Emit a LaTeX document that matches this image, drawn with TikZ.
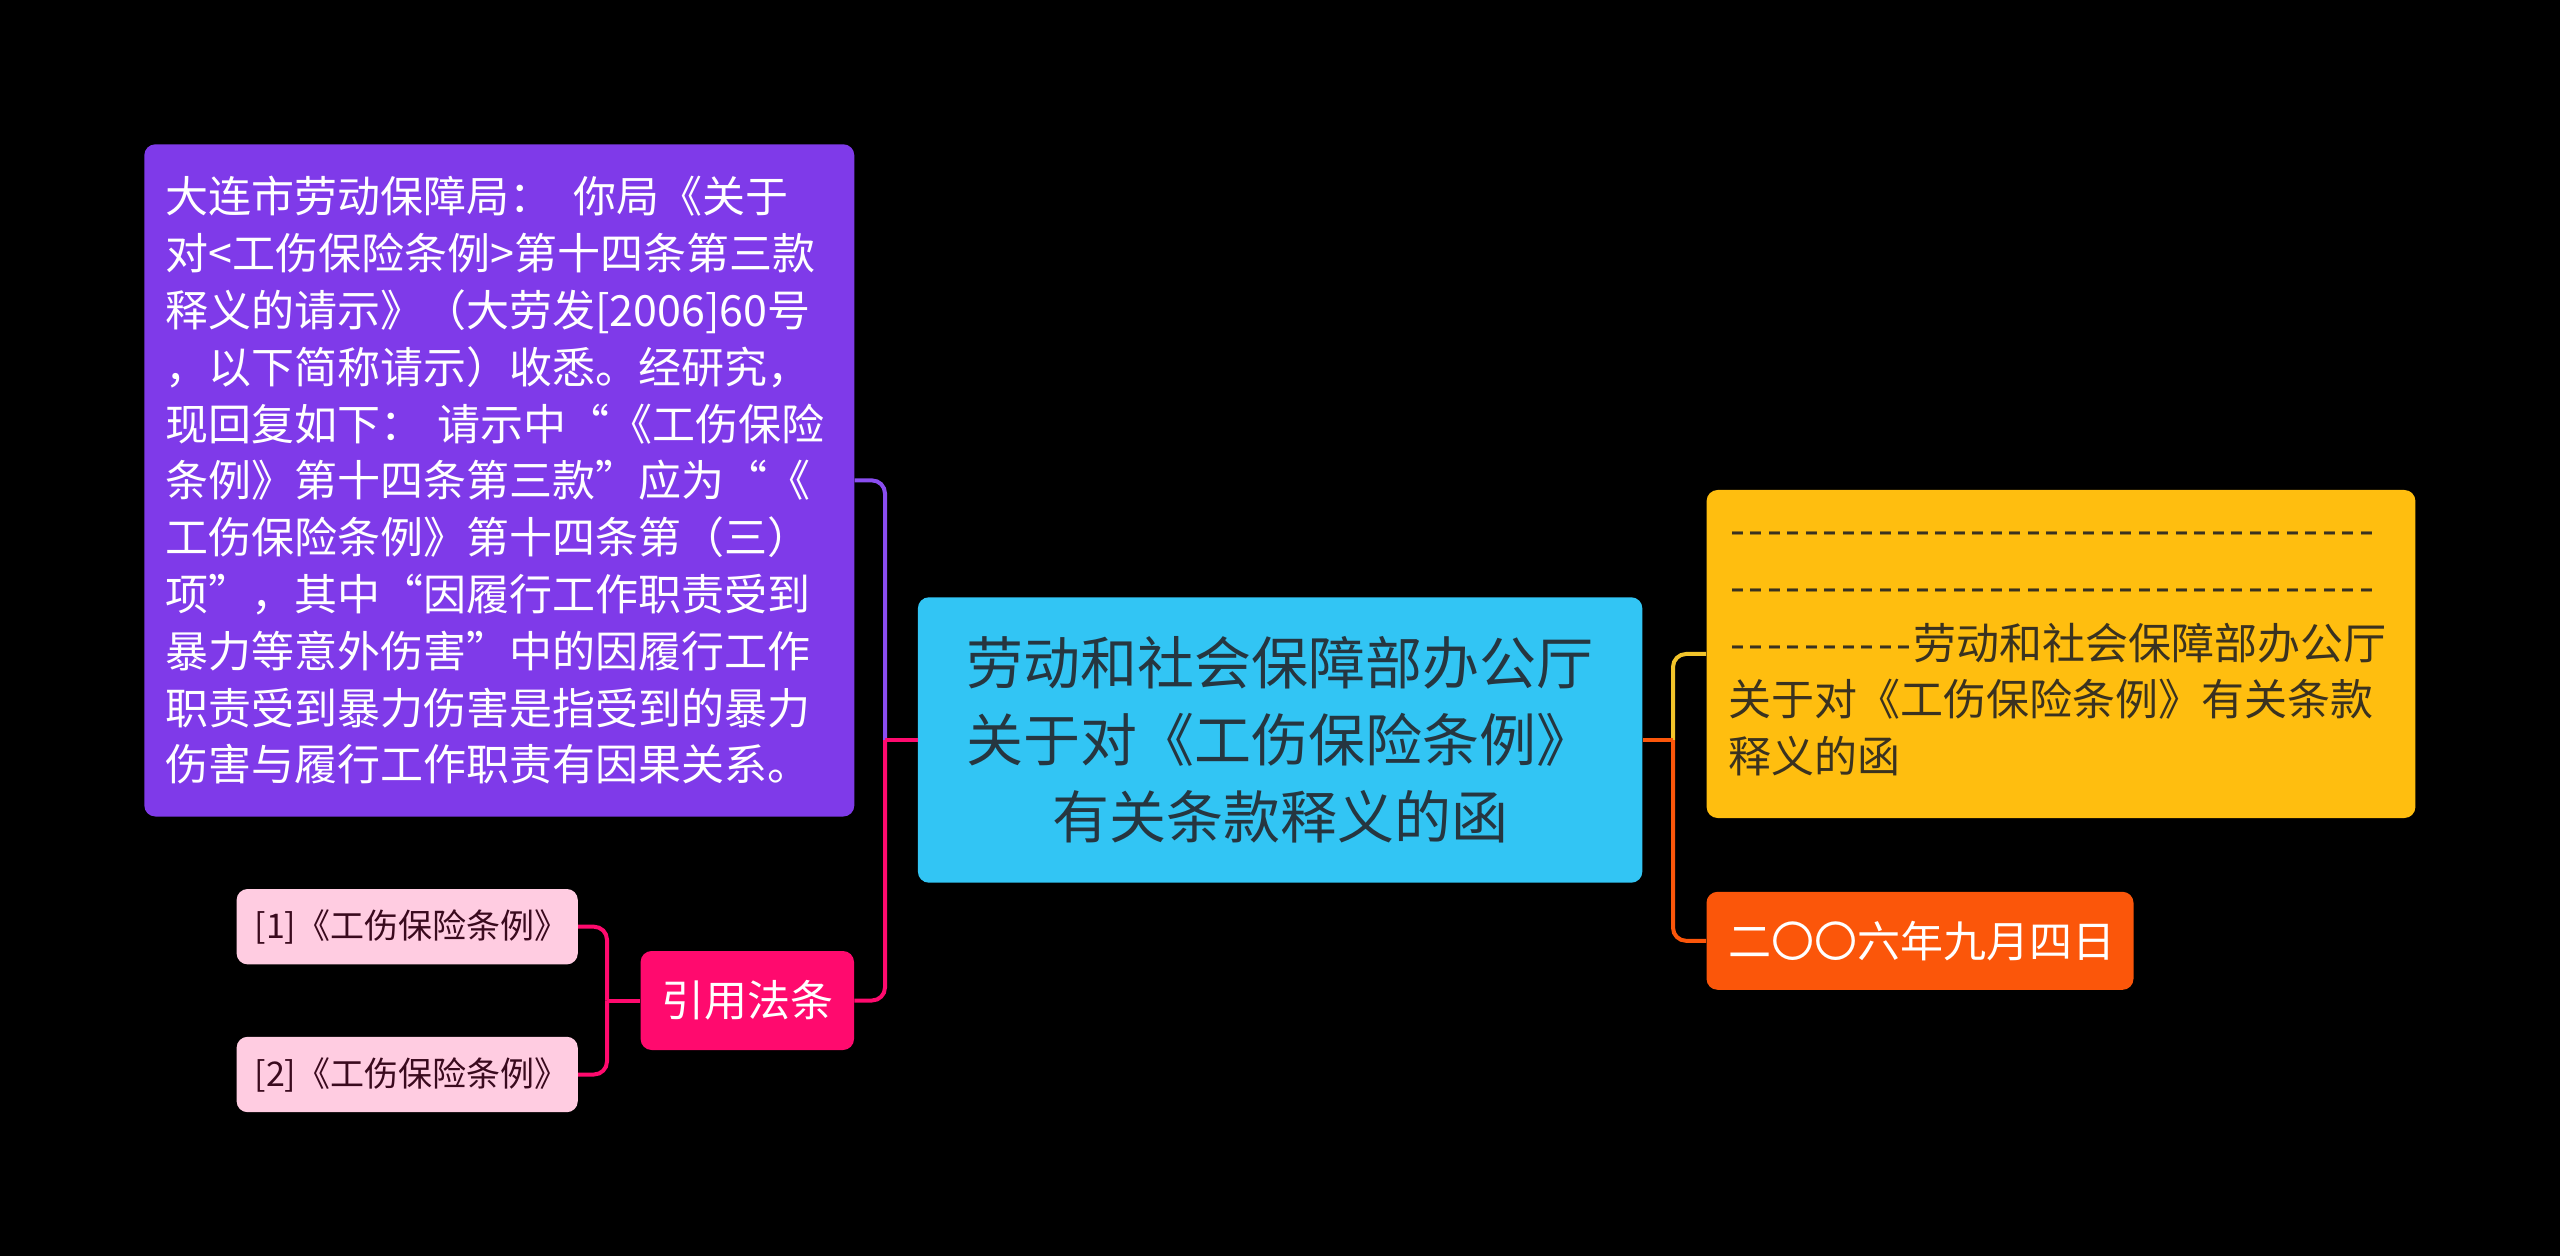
\documentclass[tikz,border=0pt]{standalone}
\usepackage{fontspec}
\setmainfont{Noto Sans CJK SC}
\definecolor{cCenter}{HTML}{32C5F4}
\definecolor{cCenterText}{HTML}{263640}
\definecolor{cPurple}{HTML}{7F3AE9}
\definecolor{cPurpleL}{HTML}{8A4DF0}
\definecolor{cYellow}{HTML}{FFBE0F}
\definecolor{cYellowL}{HTML}{F2C42A}
\definecolor{cYellowText}{HTML}{3A3220}
\definecolor{cOrange}{HTML}{FB560A}
\definecolor{cPink}{HTML}{FF0A6E}
\definecolor{cLight}{HTML}{FFCCE1}
\definecolor{cLightText}{HTML}{3A0A1E}
\newcommand\dsh{\makebox[9.25pt]{-}}
\newcommand\dshten{\dsh\dsh\dsh\dsh\dsh\dsh\dsh\dsh\dsh\dsh}
\newcommand\dshline{\dshten\dshten\dshten\dsh\dsh\dsh\dsh\dsh}
\begin{document}
\begin{tikzpicture}[x=0.5pt,y=-0.5pt,
  box/.style={rectangle, rounded corners=5.5pt, inner ysep=0pt, anchor=center},
  conn/.style={line width=2pt, rounded corners=6.5pt},
  link/.style={line width=2pt}
]
\fill[black] (0,0) rectangle (2560,1256);
\useasboundingbox (0,0) rectangle (2560,1256);

% center
\node[box, fill=cCenter, text=cCenterText, minimum width=362.2pt, minimum height=142.7pt,
  align=center, font=\fontsize{28.5pt}{38.5pt}\selectfont] (center) at (1280.1,740)
  {劳动和社会保障部办公厅\\关于对《工伤保险条例》\\有关条款释义的函};

% purple
\node[box, fill=cPurple, text=white, minimum width=354.7pt, minimum height=336.1pt,
  text width=334pt, inner xsep=10.5pt, align=left,
  font=\fontsize{21.5pt}{28.4pt}\selectfont] (purple) at (499.3,480.4)
  {大连市劳动保障局：\hspace{0.5em}你局《关于\\
   对<工伤保险条例>第十四条第三款\\
   释义的请示》（大劳发[2006]60号\\
   ，以下简称请示）收悉。经研究，\\
   现回复如下：~请示中“《工伤保险\\
   条例》第十四条第三款”应为“《\\
   工伤保险条例》第十四条第（三）\\
   项”，其中“因履行工作职责受到\\
   暴力等意外伤害”中的因履行工作\\
   职责受到暴力伤害是指受到的暴力\\
   伤害与履行工作职责有因果关系。};

% pink
\node[box, fill=cPink, text=white, minimum width=106.7pt, minimum height=49.5pt,
  align=center, font=\fontsize{21.5pt}{26pt}\selectfont] (pink) at (747.3,1000.5) {引用法条};

\node[box, fill=cLight, text=cLightText, minimum width=170.6pt, minimum height=37.7pt,
  text width=152.6pt, inner xsep=9pt, align=left,
  font=\fontsize{17pt}{21pt}\selectfont] (c1) at (407.2,926.7) {[1]《工伤保险条例》};
\node[box, fill=cLight, text=cLightText, minimum width=170.6pt, minimum height=37.7pt,
  text width=152.6pt, inner xsep=9pt, align=left,
  font=\fontsize{17pt}{21pt}\selectfont] (c2) at (407.2,1074.5) {[2]《工伤保险条例》};

% yellow
\node[box, fill=cYellow, text=cYellowText, minimum width=354.4pt, minimum height=164pt,
  text width=332.4pt, inner xsep=11pt, align=left,
  font=\fontsize{21.5pt}{28.4pt}\selectfont] (yellow) at (2061,654)
  {\dshline\\
   \dshline\\
   \dshten 劳动和社会保障部办公厅\\
   关于对《工伤保险条例》有关条款\\
   释义的函};

% orange
\node[box, fill=cOrange, text=white, minimum width=213.5pt, minimum height=49pt,
  text width=191.5pt, inner xsep=11pt, align=left,
  font=\fontsize{21.5pt}{26pt}\selectfont] (orange) at (1920,940.8) {二〇〇六年九月四日};

% junctions
\coordinate (jL) at (885,740);
\coordinate (jR) at (1673,740);
\coordinate (jP) at (607,1000.5);

% connectors
\draw[conn, draw=cPurpleL] (purple.east) -| (jL);
\draw[conn, draw=cPink] (pink.east) -| (jL);
\draw[link, draw=cPink] (jL) -- (center.west);

\draw[conn, draw=cYellowL] (yellow.west) -| (jR);
\draw[conn, draw=cOrange] (orange.west) -| (jR);
\draw[link, draw=cOrange] (jR) -- (center.east);

\draw[conn, draw=cPink] (c1.east) -| (jP);
\draw[conn, draw=cPink] (c2.east) -| (jP);
\draw[link, draw=cPink] (jP) -- (pink.west);
\end{tikzpicture}
\end{document}
